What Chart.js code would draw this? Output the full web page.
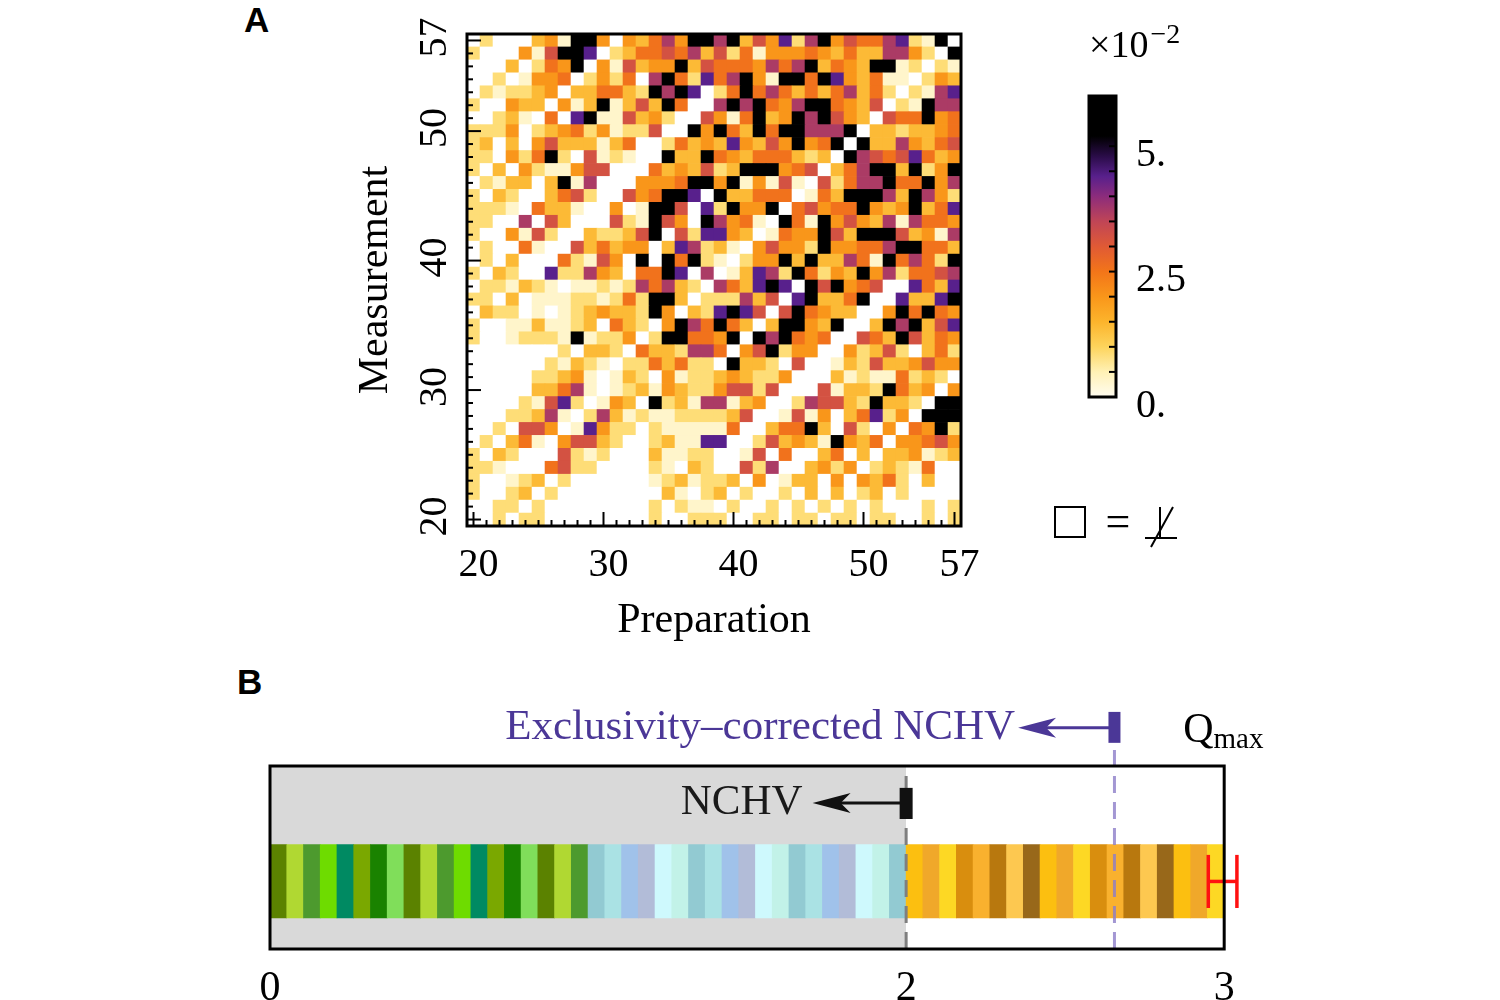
<!DOCTYPE html>
<html lang="en">
<head>
<meta charset="UTF-8">
<title>Preparation / Measurement map and NCHV strip</title>
<script src="https://cdn.jsdelivr.net/npm/chart.js@4.4.1/dist/chart.umd.min.js"></script>
<style>
    body { margin: 0; background: #fff; width: 1500px; height: 1000px; overflow: hidden; position: relative; }
    canvas { position: absolute; }
    .panel { position: absolute; font: bold 35px "Liberation Sans", Arial, sans-serif; color: #000; }
</style>
</head>
<body>

<div class="panel" style="left:244px; top:0px;">A</div>
<div class="panel" style="left:237px; top:662px;">B</div>

<canvas id="heat" width="680" height="650" style="left:340px; top:10px;"></canvas>
<canvas id="bar" width="220" height="540" style="left:1050px; top:10px;"></canvas>
<canvas id="strip" width="1080" height="310" style="left:230px; top:690px;"></canvas>

<script>
// ---- panel A data ----
const firstIndex = 20;
const lastIndex = 57;
const prepTicks = [20, 30, 40, 50, 57];
const measTicks = [20, 30, 40, 50, 57];
// value (x10^-2) for each level digit used in cellRows
const levelValues = [0, 0.35, 0.85, 1.4, 2.0, 2.55, 3.2, 3.7, 4.4, 5.6];
// one string per measurement row, top row = 57, columns = preparation 20..57
const cellRows = [
    '0200034199404357499' + '7936482794655782190',
    '2000416998023556573' + '6251444543533774209',
    '0003025490416344936' + '5554757935439912021',
    '0020144502425079528' + '5794199598435110243',
    '0212234033553297980' + '2595753535735202178',
    '2004330413913639500' + '7979547995436021977',
    '0023105089116342006' + '4159349796430655945',
    '2224023452412260094' + '9539599777903323345',
    '2303046333135002534' + '3843649459093374356',
    '2204259206121009339' + '5435553230976568534',
    '2030421146600053436' + '2399945603579939249',
    '0213303917000444599' + '4914161062577955947',
    '2032003562006459980' + '9335550153999739742',
    '2221053310040199608' + '2944905645594349358',
    '2200706300062196409' + '7451095194643717554',
    '2004162003223690628' + '8430154496399963417',
    '0200510063534403872' + '3104644294455799553',
    '0203000521640909592' + '1024493933751957529',
    '2032008227430559807' + '0138729524394725567',
    '0221321011212757320' + '7538980969456008538',
    '2203011122125299302' + '2273608933590083389',
    '0322010123433294032' + '8986069543300495954',
    '2001131123053204975' + '9530399439003979368',
    '2001222191224029955' + '4909795450065396354',
    '0000000203320533277' + '5046924400423620352',
    '0000002132102253522' + '0933206001326334644',
    '0000022341013204122' + '3432240003121152320',
    '0000033571012314322' + '4662600061332953404',
    '0000216820143092317' + '7134002766329332099',
    '0002237102731211222' + '2360016140358240999',
    '0020664018422021111' + '1500355930620405492',
    '0203510466320023118' + '8002634319435044564',
    '2032000621200031122' + '0016050035030334123',
    '2210005622000021032' + '0062700342402321500',
    '2001230200000012312' + '2304013304043520300',
    '2002302000000003102' + '3020020303023020000',
    '0022020000000020211' + '0200202020202000202',
    '0020220000000020022' + '2002202202202200202'
];
const colorbarRange = [0, 6];
const colorbarTicks = [0, 2.5, 5];
const colorbarLabels = ['0.', '2.5', '5.'];

// ---- panel B data ----
const qTicks = [0, 2, 3];
const stripeRanges = [[0, 1], [1, 2], [2, 3]];
const stripesPerRange = 19;
const nchv = 2;
const exclusivityNchv = 2.655;
const qMax = 3;
const qMaxEstimate = 2.995;
const qMaxError = 0.045;

// ---- styles ----
const serif = '"Liberation Serif", "Times New Roman", serif';
Chart.defaults.font.family = serif;
Chart.defaults.color = '#000';

const cmapStops = [
    [0, '#ffffff'], [0.5, '#fff1b5'], [1, '#fdd45c'], [1.5, '#fcb42c'], [2, '#f9961a'],
    [2.5, '#f37519'], [3, '#e05a35'], [3.5, '#c04556'], [4, '#8c2c7c'], [4.4, '#58208c'],
    [4.8, '#2a0c48'], [5.2, '#000000'], [6, '#000000']
];
const greenShades = ['#5b8200', '#b0d832', '#4d9a2e', '#6edc00', '#008a62', '#7aa800', '#1a8200', '#80de5a'];
const blueShades = ['#92cad2', '#aae2e4', '#a0c2ea', '#b2bcd8', '#cef9fd', '#c2f2e8'];
const orangeShades = ['#fcbf10', '#f0a82a', '#fdd824', '#d98e0e', '#f9b12e', '#b8780e', '#fdc850', '#98681a'];
const shadeCycles = [greenShades, blueShades, orangeShades];
const purple = '#4b3797';

// y positions (box units, 0 = bottom of box, 1 = top) for the strip annotations
const bandLayout = {
    top: 1.36, xEnd: 3.1, stripe: [0.17, 0.57],
    nchvMark: [0.71, 0.88], nchvArrow: 0.798, nchvTip: 1.706,
    exclMark: [1.126, 1.295], exclArrow: 1.208, exclTip: 2.352,
    errCap: [0.224, 0.514], errMid: 0.369
};

function hexRgb(h) {
    return [1, 3, 5].map(i => parseInt(h.slice(i, i + 2), 16));
}

function colorAt(v) {
    for (let i = 1; i < cmapStops.length; i++) {
        const [v1, c1] = cmapStops[i];
        if (v <= v1) {
            const [v0, c0] = cmapStops[i - 1];
            const t = (v - v0) / (v1 - v0);
            const a = hexRgb(c0), b = hexRgb(c1);
            const m = a.map((x, k) => Math.round(x + (b[k] - x) * t));
            return 'rgb(' + m.join(',') + ')';
        }
    }
    return '#000';
}

// ================= A: heat map =================
const cells = [];
const cellColors = [];
cellRows.forEach((row, r) => {
    for (let c = 0; c < row.length; c++) {
        const v = levelValues[+row[c]];
        cells.push({x: firstIndex + c, y: lastIndex - r, v: v});
        cellColors.push(colorAt(v));
    }
});

function cellRadius(ctx) {
    const s = ctx.chart.scales.x;
    return (Math.abs(s.getPixelForValue(1) - s.getPixelForValue(0)) + 0.6) / Math.SQRT2;
}

const heatFrame = {
    id: 'heatFrame',
    afterDatasetsDraw(chart) {
        const {ctx, chartArea: a, scales: {x, y}} = chart;
        ctx.save();
        ctx.strokeStyle = '#000';
        ctx.lineWidth = 2;
        for (let v = firstIndex; v <= lastIndex; v++) {
            const lx = prepTicks.includes(v) ? 14 : 6;
            const ly = measTicks.includes(v) ? 14 : 6;
            const px = x.getPixelForValue(v);
            ctx.beginPath(); ctx.moveTo(px, a.bottom); ctx.lineTo(px, a.bottom - lx); ctx.stroke();
            const py = y.getPixelForValue(v);
            ctx.beginPath(); ctx.moveTo(a.left, py); ctx.lineTo(a.left + ly, py); ctx.stroke();
        }
        ctx.lineWidth = 3;
        ctx.strokeRect(a.left, a.top, a.right - a.left, a.bottom - a.top);

        // rotated measurement tick labels
        ctx.fillStyle = '#000';
        ctx.font = '40px ' + serif;
        ctx.textAlign = 'center';
        ctx.textBaseline = 'middle';
        measTicks.forEach(v => {
            ctx.save();
            ctx.translate(a.left - 32, y.getPixelForValue(v) - 3);
            ctx.rotate(-Math.PI / 2);
            ctx.fillText(String(v), 0, 0);
            ctx.restore();
        });
        ctx.restore();
    }
};

new Chart(document.getElementById('heat'), {
    type: 'scatter',
    data: {
        datasets: [{
            data: cells,
            backgroundColor: cellColors,
            pointStyle: 'rect',
            pointRadius: cellRadius,
            pointHoverRadius: cellRadius,
            pointBorderWidth: 0,
            clip: false
        }]
    },
    options: {
        responsive: false,
        animation: false,
        events: [],
        layout: { padding: { top: 24, right: 59, left: 0, bottom: 0 } },
        plugins: { legend: { display: false }, tooltip: { enabled: false } },
        scales: {
            x: {
                type: 'linear', min: firstIndex - 0.5, max: lastIndex + 0.5,
                afterBuildTicks: ax => { ax.ticks = prepTicks.map(v => ({value: v})); },
                afterFit: ax => { ax.height = 134; },
                grid: { display: false },
                border: { display: false },
                ticks: { font: { size: 40 }, color: '#000', padding: 7, labelOffset: 5, maxRotation: 0, autoSkip: false },
                title: { display: true, text: 'Preparation', font: { size: 42 }, color: '#000', padding: { top: 0, bottom: 14 } }
            },
            y: {
                type: 'linear', min: firstIndex - 0.5, max: lastIndex + 0.5,
                afterFit: ax => { ax.width = 127; },
                grid: { display: false },
                border: { display: false },
                ticks: { display: false },
                title: { display: true, text: 'Measurement', font: { size: 42 }, color: '#000', padding: { top: 11, bottom: 0 } }
            }
        }
    },
    plugins: [heatFrame]
});

// ================= A: colour bar =================
const barFrame = {
    id: 'barFrame',
    afterDatasetsDraw(chart) {
        const {ctx, chartArea: a, scales: {y}} = chart;
        ctx.save();
        ctx.strokeStyle = '#000';
        ctx.lineWidth = 2;
        for (let v = 0.5; v < colorbarRange[1]; v += 0.5) {
            const py = y.getPixelForValue(v);
            ctx.beginPath(); ctx.moveTo(a.right, py); ctx.lineTo(a.right - 7, py); ctx.stroke();
        }
        ctx.lineWidth = 3;
        ctx.strokeRect(a.left, a.top, a.right - a.left, a.bottom - a.top);

        // scale factor
        ctx.fillStyle = '#000';
        ctx.textBaseline = 'alphabetic';
        ctx.textAlign = 'left';
        ctx.font = '38px ' + serif;
        ctx.fillText('\u00d710', a.left, a.top - 39);
        const w10 = ctx.measureText('\u00d710').width;
        ctx.font = '28px ' + serif;
        ctx.fillText('\u22122', a.left + w10 + 2, a.top - 53);

        // empty square = not defined
        ctx.lineWidth = 2;
        ctx.strokeRect(5, 497, 30, 30);
        ctx.font = '44px ' + serif;
        ctx.textAlign = 'center';
        ctx.textBaseline = 'middle';
        ctx.fillText('=', 68, 514);
        ctx.beginPath();
        ctx.moveTo(95, 528); ctx.lineTo(127, 528);
        ctx.moveTo(110, 497); ctx.lineTo(110, 528);
        ctx.moveTo(101, 537); ctx.lineTo(123, 497);
        ctx.stroke();
        ctx.restore();
    }
};

function barGradient(ctx) {
    const chart = ctx.chart;
    if (!chart.chartArea) return '#fff';
    const ys = chart.scales.y;
    const g = chart.ctx.createLinearGradient(0, ys.getPixelForValue(colorbarRange[0]), 0, ys.getPixelForValue(colorbarRange[1]));
    cmapStops.forEach(([v, c]) => g.addColorStop(v / colorbarRange[1], v === 0 ? '#fffcf0' : c));
    return g;
}

new Chart(document.getElementById('bar'), {
    type: 'bar',
    data: {
        labels: [''],
        datasets: [{
            data: [colorbarRange],
            backgroundColor: barGradient,
            borderWidth: 0,
            barPercentage: 1,
            categoryPercentage: 1
        }]
    },
    options: {
        responsive: false,
        animation: false,
        events: [],
        layout: { padding: { left: 39, top: 86, bottom: 153, right: 0 } },
        plugins: { legend: { display: false }, tooltip: { enabled: false } },
        scales: {
            x: { display: false },
            y: {
                position: 'right', min: colorbarRange[0], max: colorbarRange[1],
                afterBuildTicks: ax => { ax.ticks = colorbarTicks.map(v => ({value: v})); },
                afterFit: ax => { ax.width = 154; },
                grid: { display: false },
                border: { display: false },
                ticks: {
                    font: { size: 40 }, color: '#000', padding: 12, labelOffset: 9,
                    callback: (v, i) => colorbarLabels[i]
                }
            }
        }
    },
    plugins: [barFrame]
});

// ================= B: strip =================
const stripes = [];
const stripeColors = [];
stripeRanges.forEach(([lo, hi], g) => {
    const w = (hi - lo) / stripesPerRange;
    for (let k = 0; k < stripesPerRange; k++) {
        stripes.push({x: lo + w * (k + 0.5), y: bandLayout.stripe});
        const cyc = shadeCycles[g];
        stripeColors.push(cyc[k % cyc.length]);
    }
});

function seg(points, color, width, extra) {
    return Object.assign({
        type: 'line', data: points, borderColor: color, borderWidth: width,
        pointRadius: 0, fill: false, clip: false, tension: 0, borderCapStyle: 'butt', spanGaps: false
    }, extra || {});
}

const errLo = qMaxEstimate - qMaxError;
const errHi = qMaxEstimate + qMaxError;

function arrowHead(ctx, tipX, tipY, color) {
    ctx.fillStyle = color;
    ctx.beginPath();
    ctx.moveTo(tipX, tipY);
    ctx.lineTo(tipX + 38, tipY - 10);
    ctx.lineTo(tipX + 28, tipY);
    ctx.lineTo(tipX + 38, tipY + 10);
    ctx.closePath();
    ctx.fill();
}

const stripNotes = {
    id: 'stripNotes',
    afterDatasetsDraw(chart) {
        const {ctx, scales: {x, y}} = chart;
        ctx.save();
        const nTip = x.getPixelForValue(bandLayout.nchvTip);
        const nY = y.getPixelForValue(bandLayout.nchvArrow);
        arrowHead(ctx, nTip, nY, '#111');
        const eTip = x.getPixelForValue(bandLayout.exclTip);
        const eY = y.getPixelForValue(bandLayout.exclArrow);
        arrowHead(ctx, eTip, eY, purple);

        ctx.font = '43px ' + serif;
        ctx.textAlign = 'right';
        ctx.textBaseline = 'middle';
        ctx.fillStyle = '#1a1a1a';
        ctx.fillText('NCHV', nTip - 10, nY);
        ctx.fillStyle = purple;
        ctx.fillText('Exclusivity\u2013corrected NCHV', eTip - 3, eY);

        ctx.fillStyle = '#000';
        ctx.textAlign = 'left';
        ctx.textBaseline = 'alphabetic';
        ctx.font = '42px ' + serif;
        const qx = x.getPixelForValue(qMax) - 41;
        ctx.fillText('Q', qx, eY + 14);
        const qw = ctx.measureText('Q').width;
        ctx.font = '29px ' + serif;
        ctx.fillText('max', qx + qw, eY + 20);
        ctx.restore();
    }
};

new Chart(document.getElementById('strip'), {
    type: 'bar',
    data: {
        datasets: [
            seg([{x: 0, y: 1}, {x: nchv, y: 1}], 'rgba(0,0,0,0)', 0,
                { fill: 'origin', backgroundColor: '#d9d9d9', order: 10 }),
            {
                type: 'bar', data: stripes, backgroundColor: stripeColors,
                borderWidth: 0, barPercentage: 1, categoryPercentage: 1, order: 5
            },
            seg([{x: nchv, y: 0}, {x: nchv, y: 1}], '#7f7f7f', 3, { borderDash: [17, 9], order: 3 }),
            seg([{x: exclusivityNchv, y: 0}, {x: exclusivityNchv, y: bandLayout.exclMark[0]}],
                'rgba(140,125,200,0.8)', 3, { borderDash: [17, 9], order: 3 }),
            seg([{x: errLo, y: bandLayout.errCap[0]}, {x: errLo, y: bandLayout.errCap[1]}], '#ff1010', 3.5, { order: 2 }),
            seg([{x: errLo, y: bandLayout.errMid}, {x: errHi, y: bandLayout.errMid}], '#ff1010', 3.5, { order: 2 }),
            seg([{x: errHi, y: bandLayout.errCap[0]}, {x: errHi, y: bandLayout.errCap[1]}], '#ff1010', 3.5, { order: 2 }),
            seg([{x: nchv, y: bandLayout.nchvMark[0]}, {x: nchv, y: bandLayout.nchvMark[1]}], '#111', 13, { order: 1 }),
            seg([{x: bandLayout.nchvTip + 0.06, y: bandLayout.nchvArrow}, {x: nchv, y: bandLayout.nchvArrow}], '#111', 3, { order: 1 }),
            seg([{x: exclusivityNchv, y: bandLayout.exclMark[0]}, {x: exclusivityNchv, y: bandLayout.exclMark[1]}], purple, 12, { order: 1 }),
            seg([{x: bandLayout.exclTip + 0.06, y: bandLayout.exclArrow}, {x: exclusivityNchv, y: bandLayout.exclArrow}], purple, 3, { order: 1 }),
            seg([{x: 0, y: 0}, {x: qMax, y: 0}, {x: qMax, y: 1}, {x: 0, y: 1}, {x: 0, y: 0}], '#000', 3,
                { borderJoinStyle: 'miter', borderCapStyle: 'square', order: 0 })
        ]
    },
    options: {
        responsive: false,
        animation: false,
        events: [],
        layout: { padding: { left: 40, right: 54, top: 10, bottom: 0 } },
        plugins: { legend: { display: false }, tooltip: { enabled: false } },
        scales: {
            x: {
                type: 'linear', min: 0, max: bandLayout.xEnd, offset: false,
                afterBuildTicks: ax => { ax.ticks = qTicks.map(v => ({value: v})); },
                afterFit: ax => { ax.height = 51; },
                grid: { display: false },
                border: { display: false },
                ticks: { font: { size: 42 }, color: '#000', padding: 7, maxRotation: 0, autoSkip: false }
            },
            y: { type: 'linear', display: false, min: 0, max: bandLayout.top }
        }
    },
    plugins: [stripNotes]
});
</script>

</body>
</html>
